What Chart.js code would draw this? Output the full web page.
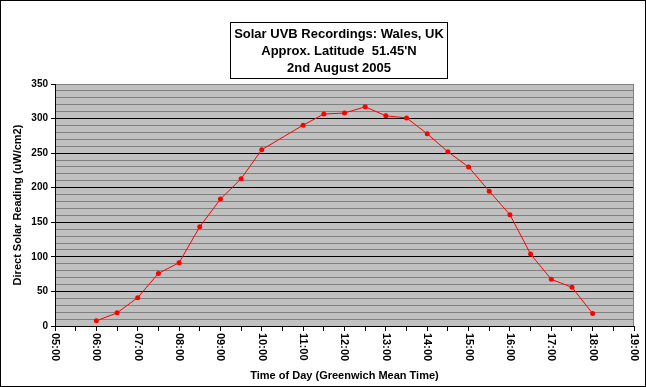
<!DOCTYPE html>
<html>
<head>
<meta charset="utf-8">
<script src="https://cdn.jsdelivr.net/npm/chart.js@4/dist/chart.umd.min.js"></script>
<style>
html,body{margin:0;padding:0;background:#fff;}
canvas{display:block;}
</style>
</head>
<body>
<canvas id="c" width="646" height="387"></canvas>
<script>
const titleLines = ["Solar UVB Recordings: Wales, UK", "Approx. Latitude  51.45'N", "2nd August 2005"];
const yAxisTitle = "Direct Solar Reading (uW/cm2)";
const xAxisTitle = "Time of Day (Greenwich Mean Time)";
const times = ["06:00","06:30","07:00","07:30","08:00","08:30","09:00","09:30","10:00",
               "11:00","11:30","12:00","12:30","13:00","13:30","14:00","14:30","15:00",
               "15:30","16:00","16:30","17:00","17:30","18:00"];
const readings = [7.5, 19, 41, 76, 91.5, 143.5, 183.5, 213, 255,
                  290.5, 306.5, 308, 317, 304, 301, 278, 252, 230,
                  195, 161, 104, 67.5, 56, 18];
const xTickLabels = ["05:00","06:00","07:00","08:00","09:00","10:00","11:00","12:00",
                     "13:00","14:00","15:00","16:00","17:00","18:00","19:00"];

function toHours(t){ const p = t.split(":"); return +p[0] + (+p[1])/60; }
const points = times.map((t,i)=>({x: toHours(t), y: readings[i]}));

const FONT = "'Liberation Sans', Arial, sans-serif";

const deco = {
  id: 'deco',
  beforeDraw(chart){
    const ctx = chart.ctx, a = chart.chartArea;
    ctx.save();
    ctx.fillStyle = '#fff';
    ctx.fillRect(0,0,chart.width,chart.height);
    ctx.fillStyle = '#C0C0C0';
    ctx.fillRect(a.left, a.top, a.right-a.left, a.bottom-a.top);
    ctx.restore();
  },
  afterDraw(chart){
    const ctx = chart.ctx, a = chart.chartArea;
    const xs = chart.scales.x;
    ctx.save();
    // plot right border
    ctx.strokeStyle = '#808080'; ctx.lineWidth = 1;
    ctx.beginPath();
    ctx.moveTo(Math.round(a.right)-0.5, a.top);
    ctx.lineTo(Math.round(a.right)-0.5, a.bottom);
    ctx.stroke();
    // outer border
    ctx.strokeStyle = '#000';
    ctx.strokeRect(0.5,0.5,645,386);
    // title box
    ctx.fillStyle = '#fff';
    ctx.fillRect(230.5,22.5,217,56);
    ctx.strokeRect(230.5,22.5,217,56);
    ctx.fillStyle = '#000';
    ctx.font = "bold 13px " + FONT;
    ctx.textAlign = 'center'; ctx.textBaseline = 'middle';
    titleLines.forEach((l,i)=> ctx.fillText(l, 339, 34 + i*17));
    // x tick labels rotated clockwise
    ctx.font = "bold 11px " + FONT;
    ctx.textAlign = 'left'; ctx.textBaseline = 'middle';
    xTickLabels.forEach(lbl=>{
      const px = xs.getPixelForValue(toHours(lbl));
      ctx.save();
      ctx.translate(px, 333);
      ctx.rotate(Math.PI/2);
      ctx.fillText(lbl, 0, 0);
      ctx.restore();
    });
    // axis titles
    ctx.font = "bold 11px " + FONT;
    ctx.textAlign = 'center'; ctx.textBaseline = 'middle';
    ctx.fillText(xAxisTitle, (a.left+a.right)/2, 376);
    ctx.save();
    ctx.translate(18, (a.top+a.bottom)/2);
    ctx.rotate(-Math.PI/2);
    ctx.fillText(yAxisTitle, 0, 0);
    ctx.restore();
    ctx.restore();
  }
};

new Chart(document.getElementById('c'), {
  type: 'line',
  data: {
    datasets: [{
      data: points,
      borderColor: '#FF0000',
      backgroundColor: '#FF0000',
      borderWidth: 1,
      pointRadius: 2.5,
      pointHoverRadius: 2.5,
      pointBorderWidth: 0,
      tension: 0
    }]
  },
  options: {
    responsive: false,
    animation: false,
    events: [],
    layout: { padding: { left: 0, right: 12, top: 84, bottom: 0 } },
    plugins: { legend: { display: false }, tooltip: { enabled: false }, title: { display: false } },
    scales: {
      x: {
        type: 'linear', min: 5, max: 19,
        ticks: { display: false, stepSize: 0.5, autoSkip: false },
        grid: { drawOnChartArea: false, drawTicks: true, tickLength: 5, color: '#000' },
        border: { color: '#000', width: 1 },
        afterFit(s){ s.height = 61; }
      },
      y: {
        min: 0, max: 350,
        ticks: {
          stepSize: 10, autoSkip: false, padding: 3, color: '#000',
          font: { family: FONT, size: 10, weight: 'bold' },
          callback: v => (v % 50 === 0 ? String(v) : '')
        },
        grid: {
          color: c => (c.tick && c.tick.value % 50 === 0 && c.tick.value !== 350) ? '#000' : '#808080',
          tickColor: c => (c.tick && c.tick.value % 50 === 0) ? '#000' : 'rgba(0,0,0,0)',
          tickLength: 4, lineWidth: 1
        },
        border: { color: '#000', width: 1 },
        afterFit(s){ s.width = 55; }
      }
    }
  },
  plugins: [deco]
});
</script>
</body>
</html>
